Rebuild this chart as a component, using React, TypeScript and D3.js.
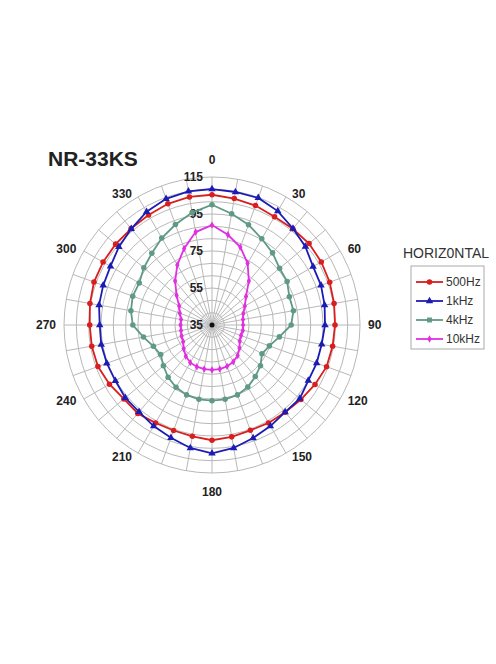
import React from "react";
import * as d3 from "d3";

const angles = d3.range(0, 360, 10);
const seriesNames = ["500Hz", "1kHz", "4kHz", "10kHz"];
const seriesColors = ["#d81e1e", "#1c1cb4", "#5f9a84", "#e030e0"];
const seriesSymbols = [d3.symbolCircle, d3.symbolTriangle, d3.symbolCircle, d3.symbolDiamond];
const seriesSizes = [24, 24, 24, 16];

const v500 = [105.4, 104.4, 103.7, 102.6, 102.9, 103.5, 103.2, 102.7, 102, 101.5, 101.2, 100.9, 99.3, 97.7, 96.5, 96.1, 95.6, 96.4, 97.3, 96.1, 95.7, 96.1, 97.4, 97.2, 99, 100.6, 101, 101.1, 102, 102.9, 103, 103, 103, 103.6, 104.7, 105.3];
const v1k = [108.5, 108, 108.1, 106.1, 103.1, 100.9, 98.1, 97.7, 96.8, 96.1, 95.2, 95.2, 95.1, 96.9, 96.5, 98.1, 100, 102.5, 104.4, 102.5, 99.9, 98.1, 96.3, 96.2, 95.3, 95.5, 95.8, 95.7, 97, 97.6, 98.4, 100.7, 102.9, 105.7, 107.6, 108.4];
const v4k = [100, 96.1, 92.7, 88.8, 85.9, 82.7, 81.9, 79.5, 79.7, 77.8, 72, 68, 66.2, 69.2, 71.4, 73.7, 75.2, 75.8, 75.9, 75.8, 75.2, 73.9, 71.9, 69.3, 67, 68.7, 72.6, 77.8, 79.5, 80.6, 80.4, 83.1, 85.6, 89.3, 92.8, 96.7];
const v10k = [89, 84.5, 79.8, 73.5, 66, 59, 55.5, 53, 52, 51.8, 51.9, 51.7, 52.3, 54.4, 56.6, 58, 58.8, 59.2, 59.3, 59.2, 59, 58.5, 57, 55, 53, 52.5, 52, 52, 52, 53.5, 55.5, 60, 66, 72.5, 79, 86];

const radialTicks = [35, 55, 75, 95, 115];
const angleLabels = [0, 30, 60, 90, 120, 150, 180, 210, 240, 270, 300, 330];
const title = "NR-33KS";
const legendTitle = "HORIZ0NTAL";

const W = 496;
const H = 664;
const cx = 212;
const cy = 325;
const R = 148;

export default function App() {
  const r = d3.scaleLinear().domain([35, 115]).range([0, R]);
  const gridLevels = d3.range(0, 13).map((i) => 35 + (i * 80) / 12);
  const allSeries = [v500, v1k, v4k, v10k];
  const pt = (deg: number, v: number): [number, number] => {
    const a = (deg * Math.PI) / 180;
    return [cx + r(v) * Math.sin(a), cy - r(v) * Math.cos(a)];
  };
  const lineGen = d3.line<[number, number]>().curve(d3.curveLinearClosed);
  const font = "'Liberation Sans', Arial, sans-serif";

  return (
    <svg width={W} height={H} style={{ position: "absolute", left: 0, top: 0, background: "#fff" }}>
      {gridLevels.slice(1).map((lv, i) => (
        <circle key={"g" + i} cx={cx} cy={cy} r={r(lv)} fill="none" stroke="#b8b8b8" strokeWidth={1} />
      ))}
      {angles.map((a) => {
        const [x, y] = pt(a, 115);
        return <line key={"s" + a} x1={cx} y1={cy} x2={x} y2={y} stroke="#b8b8b8" strokeWidth={1} />;
      })}
      <circle cx={cx} cy={cy} r={2.5} fill="#111" />
      {radialTicks.map((t) => (
        <text key={"rt" + t} x={cx - 9} y={cy - r(t) + 4.3} textAnchor="end" fontFamily={font} fontWeight="bold" fontSize={12} fill="#222">
          {t}
        </text>
      ))}
      {angleLabels.map((a) => {
        const rad = (a * Math.PI) / 180;
        const s = Math.sin(rad);
        const c = Math.cos(rad);
        if (Math.abs(s) < 1e-6) {
          const y = c > 0 ? cy - 165 : cy + 166.5;
          return (
            <text key={"al" + a} x={cx} y={y + 4.3} textAnchor="middle" fontFamily={font} fontWeight="bold" fontSize={12} fill="#222">
              {a}
            </text>
          );
        }
        const x = cx + 152 * s + (s > 0 ? 4 : -4);
        const y = cy - 152 * c;
        return (
          <text key={"al" + a} x={x} y={y + 4.3} textAnchor={s > 0 ? "start" : "end"} fontFamily={font} fontWeight="bold" fontSize={12} fill="#222">
            {a}
          </text>
        );
      })}
      {allSeries.map((vals, si) => {
        const pts = vals.map((v, i) => pt(angles[i], v));
        const sym = d3.symbol().type(seriesSymbols[si]).size(seriesSizes[si]);
        return (
          <g key={"ser" + si}>
            <path d={lineGen(pts) || ""} fill="none" stroke={seriesColors[si]} strokeWidth={1.8} />
            {pts.map(([x, y], i) => (
              <path key={i} d={sym() || ""} transform={`translate(${x},${y})`} fill={seriesColors[si]} />
            ))}
          </g>
        );
      })}
      <text x={48} y={166} fontFamily={font} fontWeight="bold" fontSize={21} fill="#222">
        {title}
      </text>
      <text x={403} y={258} fontFamily={font} fontSize={14} fill="#333">
        {legendTitle}
      </text>
      <rect x={411} y={266} width={73} height={83} fill="#fff" stroke="#aaa" strokeWidth={1} />
      {seriesNames.map((n, i) => {
        const y = 282 + i * 19;
        const sym = d3.symbol().type(seriesSymbols[i] === d3.symbolCircle && i === 2 ? d3.symbolSquare : seriesSymbols[i]).size(seriesSizes[i]);
        return (
          <g key={"lg" + n}>
            <line x1={416} x2={443} y1={y} y2={y} stroke={seriesColors[i]} strokeWidth={1.8} />
            <path d={sym() || ""} transform={`translate(429.5,${y})`} fill={seriesColors[i]} />
            <text x={446} y={y + 4.3} fontFamily={font} fontSize={12} fill="#333">
              {n}
            </text>
          </g>
        );
      })}
    </svg>
  );
}
